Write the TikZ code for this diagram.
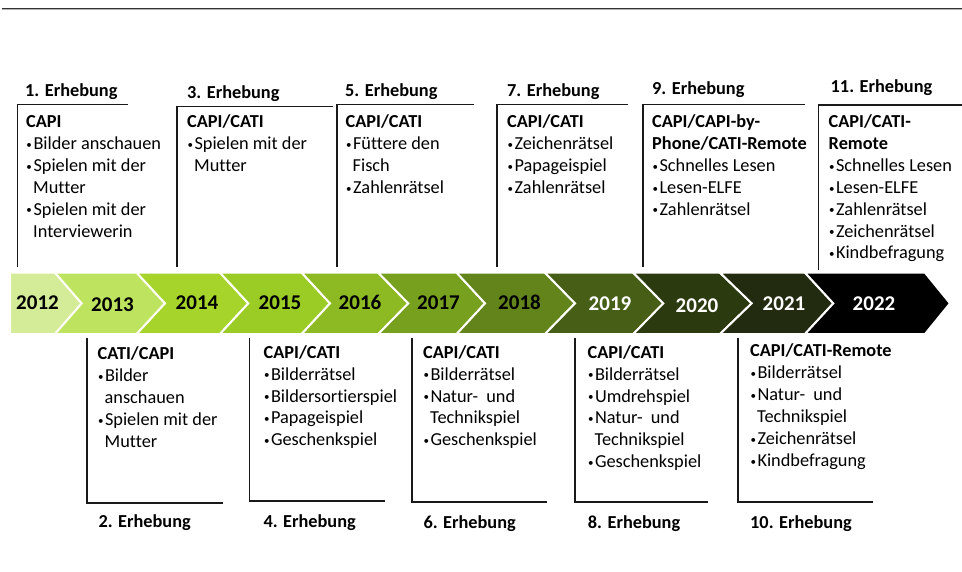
\documentclass[tikz,border=0pt]{standalone}
\usepackage{fontspec}
\setmainfont{Carlito}[Ligatures={NoCommon}]
\definecolor{g12}{HTML}{D4EB98}
\definecolor{g13}{HTML}{BEE35E}
\definecolor{g14}{HTML}{A6D42A}
\definecolor{g15}{HTML}{9BCB25}
\definecolor{g16}{HTML}{8DBA22}
\definecolor{g17}{HTML}{76A01E}
\definecolor{g18}{HTML}{62841B}
\definecolor{g19}{HTML}{475E17}
\definecolor{g20}{HTML}{2C3A10}
\definecolor{g21}{HTML}{222B10}
\definecolor{g22}{HTML}{000000}
\definecolor{rulegray}{HTML}{333333}
% bullet item and continuation indent inside the callout texts
\newcommand\bpt{\makebox[7.3pt][l]{\hspace{0.3pt}\raisebox{1.2pt}{\fontsize{11}{11}\selectfont •}}}
\newcommand\bcont{\hspace*{7pt}}
\newcommand\topstrut{\rule{0pt}{15pt}}
\begin{document}
\begin{tikzpicture}[x=1pt,y=-1pt,
  bracket/.style={line width=1.6pt, draw=black!90, line join=miter},
  title/.style={anchor=base west, inner sep=0pt, font=\fontsize{18.3}{21.9}\selectfont\bfseries},
  body/.style={anchor=north west, inner sep=0pt, align=left, font=\fontsize{18.3}{21.9}\selectfont},
  chev/.style={draw=white, line width=2pt, line join=miter},
  yr/.style={font=\fontsize{21}{21}\selectfont\bfseries, inner sep=0pt, anchor=center},
  yrlight/.style={yr, text=white}
]
\useasboundingbox (0,0) rectangle (962,571);

% header rule
\draw[rulegray, line width=1.2pt] (1.7,8.3) -- (962,8.3);
\draw[black!30, line width=0.8pt] (1.7,9.6) -- (962,9.6);

% chevron band
\def\bt{272.7}\def\bb{334}\def\bm{303.35}
\filldraw[chev, fill=g12] (10,\bt) -- (55,\bt) -- (81.7,\bm) -- (55,\bb) -- (10,\bb) -- cycle;
\foreach \l/\n/\r/\t/\c in {
   55/81.7/136.7/165/g13,
   136.7/165/220/248.3/g14,
   220/248.3/301.7/330/g15,
   301.7/330/378.3/408.3/g16,
   378.3/408.3/456.7/485/g17,
   456.7/485/545/575/g18,
   545/575/633.3/663.3/g19,
   633.3/663.3/720/751.7/g20,
   720/751.7/805/833.3/g21,
   805/833.3/925/950/g22}
  \filldraw[chev, fill=\c] (\l,\bt) -- (\r,\bt) -- (\t,\bm) -- (\r,\bb) -- (\l,\bb) -- (\n,\bm) -- cycle;

% years
\node[yr] (y2012) at (37.5,302.8) {2012};
\node[yr] (y2013) at (112.5,304.5) {2013};
\node[yr] (y2014) at (197,303) {2014};
\node[yr] (y2015) at (280,303) {2015};
\node[yr] (y2016) at (360,302.8) {2016};
\node[yr] (y2017) at (438.5,302.8) {2017};
\node[yr] (y2018) at (519.5,302.5) {2018};
\node[yrlight] (y2019) at (610,304) {2019};
\node[yrlight] (y2020) at (697,305.5) {2020};
\node[yrlight] (y2021) at (784,304) {2021};
\node[yrlight] (y2022) at (874,304) {2022};

% upper callouts: survey waves 1,3,5,7,9,11
\coordinate (a1) at (17.3,267);  \coordinate (k1) at (17.3,104.5);  \coordinate (e1) at (128,104.5);
\coordinate (a3) at (177,267);   \coordinate (k3) at (177,106.5);   \coordinate (e3) at (333,106.5);
\coordinate (a5) at (337,267);   \coordinate (k5) at (337,104.5);   \coordinate (e5) at (474,104.5);
\coordinate (a7) at (497,267);   \coordinate (k7) at (497,104.5);   \coordinate (e7) at (628,104.5);
\coordinate (a9) at (643,267);   \coordinate (k9) at (643,104.5);   \coordinate (e9) at (805,104.5);
\coordinate (a11) at (818.5,270); \coordinate (k11) at (818.5,105.2); \coordinate (e11) at (962,105.2);
\foreach \i in {1,3,5,7,9,11}
  \draw[bracket] (a\i) -- (k\i) -- (e\i);

\node[title] (t1) at (25,96.5) {1. Erhebung};
\node[title] (t3) at (187,98) {3. Erhebung};
\node[title] (t5) at (345,96) {5. Erhebung};
\node[title] (t7) at (507,96) {7. Erhebung};
\node[title] (t9) at (652,94) {9. Erhebung};
\node[title] (t11) at (830.5,92) {11. Erhebung};

\node[body] (b1) at (26,112.3) {\topstrut\textbf{CAPI}\\
  \bpt Bilder anschauen\\ \bpt Spielen mit der\\ \bcont Mutter\\
  \bpt Spielen mit der\\ \bcont Interviewerin};
\node[body] (b3) at (187,112.3) {\topstrut\textbf{CAPI/CATI}\\
  \bpt Spielen mit der\\ \bcont Mutter};
\node[body] (b5) at (345.5,112.3) {\topstrut\textbf{CAPI/CATI}\\
  \bpt Füttere den\\ \bcont Fisch\\ \bpt Zahlenrätsel};
\node[body] (b7) at (507,112.3) {\topstrut\textbf{CAPI/CATI}\\
  \bpt Zeichenrätsel\\ \bpt Papageispiel\\ \bpt Zahlenrätsel};
\node[body] (b9) at (652,112.3) {\topstrut\textbf{CAPI/CAPI-by-}\\
  \textbf{Phone/CATI-Remote}\\ \bpt Schnelles Lesen\\ \bpt Lesen-ELFE\\ \bpt Zahlenrätsel};
\node[body] (b11) at (828.5,112.3) {\topstrut\textbf{CAPI/CATI-}\\
  \textbf{Remote}\\ \bpt Schnelles Lesen\\ \bpt Lesen-ELFE\\ \bpt Zahlenrätsel\\
  \bpt Zeichenrätsel\\ \bpt Kindbefragung};

% lower callouts: survey waves 2,4,6,8,10
\coordinate (a2) at (87,338);    \coordinate (k2) at (87,502.7);    \coordinate (e2) at (223,502.7);
\coordinate (a4) at (249.3,338); \coordinate (k4) at (249.3,501);   \coordinate (e4) at (385,501);
\coordinate (a6) at (412,338);   \coordinate (k6) at (412,501.7);   \coordinate (e6) at (547,501.7);
\coordinate (a8) at (575,338);   \coordinate (k8) at (575,501.7);   \coordinate (e8) at (708,501.7);
\coordinate (a10) at (738,338);  \coordinate (k10) at (738,501.7);  \coordinate (e10) at (873,501.7);
\foreach \i in {2,4,6,8,10}
  \draw[bracket] (a\i) -- (k\i) -- (e\i);

\node[title] (t2) at (98.3,527) {2. Erhebung};
\node[title] (t4) at (263.3,527) {4. Erhebung};
\node[title] (t6) at (423.3,528) {6. Erhebung};
\node[title] (t8) at (587.7,528) {8. Erhebung};
\node[title] (t10) at (750,528) {10. Erhebung};

\node[body] (b2) at (97.5,344.7) {\topstrut\textbf{CATI/CAPI}\\
  \bpt Bilder\\ \bcont anschauen\\ \bpt Spielen mit der\\ \bcont Mutter};
\node[body] (b4) at (263.5,343) {\topstrut\textbf{CAPI/CATI}\\
  \bpt Bilderrätsel\\ \bpt Bildersortierspiel\\ \bpt Papageispiel\\ \bpt Geschenkspiel};
\node[body] (b6) at (423,343) {\topstrut\textbf{CAPI/CATI}\\
  \bpt Bilderrätsel\\ \bpt Natur-\ \ und\\ \bcont Technikspiel\\ \bpt Geschenkspiel};
\node[body] (b8) at (587.5,343) {\topstrut\textbf{CAPI/CATI}\\
  \bpt Bilderrätsel\\ \bpt Umdrehspiel\\ \bpt Natur-\ \ und\\ \bcont Technikspiel\\ \bpt Geschenkspiel};
\node[body] (b10) at (750,341.5) {\topstrut\textbf{CAPI/CATI-Remote}\\
  \bpt Bilderrätsel\\ \bpt Natur-\ \ und\\ \bcont Technikspiel\\ \bpt Zeichenrätsel\\ \bpt Kindbefragung};
\end{tikzpicture}
\end{document}
